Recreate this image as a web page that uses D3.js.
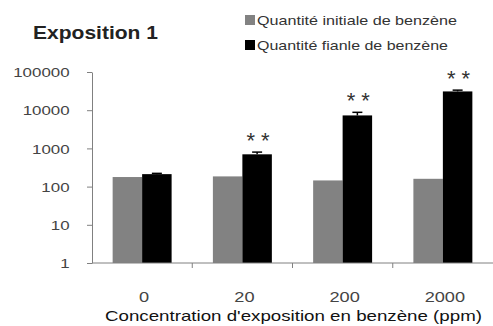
<!DOCTYPE html>
<html>
<head>
<meta charset="utf-8">
<script src="https://cdn.jsdelivr.net/npm/d3@7"></script>
<style>
  html, body { margin: 0; padding: 0; background: #fff; }
  svg { display: block; font-family: Arial, "Liberation Sans", sans-serif; }
</style>
</head>
<body>
<svg id="chart" width="493" height="326"></svg>
<script>
// Benzene quantities by exposure concentration (log scale)
const categories = ["0", "20", "200", "2000"];
const seriesNames = ["Quantité initiale de benzène", "Quantité fianle de benzène"];
const initialValues = [178, 185, 145, 160];
const finalValues = [212, 700, 7300, 31000];
const finalErrors = [10, 100, 1500, 2500];
const significance = ["", "**", "**", "**"];
const yTicks = [1, 10, 100, 1000, 10000, 100000];
const seriesColors = ["#828282", "#000000"];

const svg = d3.select("#chart");

const x0 = d3.scaleBand().domain(categories).range([92, 493]).padding(0);
const x1 = d3.scaleBand().domain([0, 1]).range([0, x0.bandwidth()]).paddingInner(0).paddingOuter(0.7);
const y = d3.scaleLog().domain([1, 100000]).range([263, 72]);

// Title
svg.append("text")
  .attr("x", 33).attr("y", 39)
  .attr("font-size", 18).attr("font-weight", "bold").attr("fill", "#222")
  .attr("textLength", 125).attr("lengthAdjust", "spacingAndGlyphs")
  .text("Exposition 1");

// Legend
const legend = svg.append("g");
seriesNames.forEach((name, i) => {
  const cy = 20 + i * 25;
  legend.append("rect")
    .attr("x", 245).attr("y", cy - 5).attr("width", 10).attr("height", 10)
    .attr("fill", seriesColors[i]);
  legend.append("text")
    .attr("x", 257).attr("y", cy + 5)
    .attr("font-size", 13).attr("fill", "#333")
    .attr("textLength", i === 0 ? 200 : 191).attr("lengthAdjust", "spacingAndGlyphs")
    .text(name);
});

// Bars
const groups = svg.append("g").selectAll("g")
  .data(categories)
  .join("g")
  .attr("transform", d => `translate(${x0(d)},0)`);

groups.each(function(cat, ci) {
  const g = d3.select(this);
  const vals = [initialValues[ci], finalValues[ci]];
  vals.forEach((v, si) => {
    g.append("rect")
      .attr("x", x1(si)).attr("width", x1.bandwidth())
      .attr("y", y(v)).attr("height", y(1) - y(v))
      .attr("fill", seriesColors[si]);
  });
  // Error bar on final quantity
  const cx = x1(1) + x1.bandwidth() / 2;
  const top = y(finalValues[ci] + finalErrors[ci]);
  g.append("line")
    .attr("x1", cx).attr("x2", cx)
    .attr("y1", y(finalValues[ci])).attr("y2", top)
    .attr("stroke", "#000").attr("stroke-width", 1.5);
  g.append("line")
    .attr("x1", cx - 5).attr("x2", cx + 5)
    .attr("y1", top).attr("y2", top)
    .attr("stroke", "#000").attr("stroke-width", 1.5);
  if (significance[ci]) {
    g.append("text")
      .attr("x", cx + 1).attr("y", top - 4)
      .attr("text-anchor", "middle")
      .attr("font-size", 22).attr("fill", "#333")
      .attr("letter-spacing", 6)
      .attr("dx", 3)
      .text(significance[ci]);
  }
});

// Y axis
const yAxis = d3.axisLeft(y)
  .tickValues(yTicks)
  .tickFormat(d3.format("d"))
  .tickSize(5)
  .tickSizeOuter(0);
const yg = svg.append("g").attr("transform", "translate(92,0)").call(yAxis);
yg.select(".domain").attr("stroke", "#808080");
yg.selectAll(".tick line").attr("stroke", "#808080");
yg.selectAll(".tick text")
  .attr("x", -18)
  .attr("font-size", 13.5)
  .attr("font-family", "Arial, 'Liberation Sans', sans-serif")
  .attr("fill", "#444")
  .attr("transform", "scale(1.25,1)")
  .attr("dy", "0.35em");

// X axis: line with ticks at category boundaries
const xg = svg.append("g");
xg.append("line")
  .attr("x1", 92).attr("x2", 493).attr("y1", y(1)).attr("y2", y(1))
  .attr("stroke", "#808080");
categories.slice(1).forEach(c => {
  xg.append("line")
    .attr("x1", x0(c)).attr("x2", x0(c))
    .attr("y1", y(1)).attr("y2", y(1) + 5)
    .attr("stroke", "#808080");
});
categories.forEach(c => {
  xg.append("text")
    .attr("transform", `translate(${x0(c) + x0.bandwidth() / 2 + 2},302) scale(1.3,1)`)
    .attr("text-anchor", "middle")
    .attr("font-size", 14).attr("fill", "#444")
    .text(c);
});

// X axis title
svg.append("text")
  .attr("x", 105).attr("y", 321)
  .attr("font-size", 15).attr("fill", "#111")
  .attr("textLength", 377).attr("lengthAdjust", "spacingAndGlyphs")
  .text("Concentration d'exposition en benzène (ppm)");
</script>
</body>
</html>
